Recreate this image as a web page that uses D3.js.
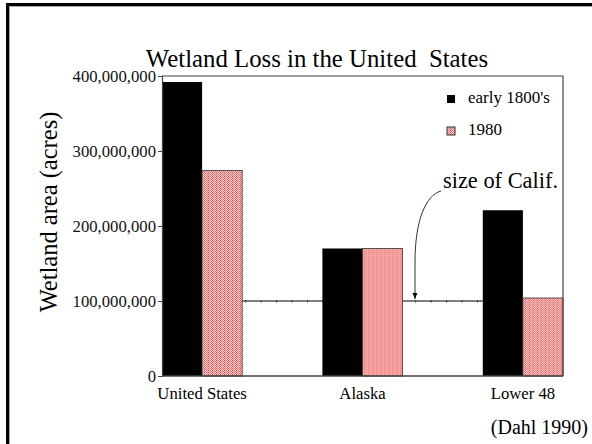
<!DOCTYPE html>
<html><head><meta charset="utf-8">
<script src="https://cdn.jsdelivr.net/npm/d3@7"></script>
<style>html,body{margin:0;padding:0;background:#fff;}svg{display:block;}</style>
</head><body>
<script>
const categories = ["United States", "Alaska", "Lower 48"];
const seriesNames = ["early 1800's", "1980"];
const early1800s = [392000000, 170000000, 221000000];
const y1980 = [274000000, 170000000, 104000000];
const yTicks = [0, 100000000, 200000000, 300000000, 400000000];
const californiaSize = 100000000;

const W = 592, H = 444;
const m = {left: 162, top: 76, right: 563, bottom: 376};
const font = "'Liberation Serif','Times New Roman',serif";

const svg = d3.select("body").append("svg").attr("width", W).attr("height", H)
  .style("font-family", font);

const defs = svg.append("defs");
const pat = defs.append("pattern").attr("id", "pink").attr("patternUnits", "userSpaceOnUse")
  .attr("width", 4).attr("height", 2);
pat.append("rect").attr("width", 4).attr("height", 2).attr("fill", "#fcd2d2");
pat.append("rect").attr("x", 0).attr("y", 0).attr("width", 1).attr("height", 1).attr("fill", "#f07474");
pat.append("rect").attr("x", 1).attr("y", 1).attr("width", 1).attr("height", 1).attr("fill", "#f07474");
pat.append("rect").attr("x", 2).attr("y", 0).attr("width", 1).attr("height", 1).attr("fill", "#e84040");
pat.append("rect").attr("x", 3).attr("y", 1).attr("width", 1).attr("height", 1).attr("fill", "#f07474");

const marker = defs.append("marker").attr("id", "arr").attr("viewBox", "0 0 10 10")
  .attr("refX", 10).attr("refY", 5).attr("markerWidth", 6).attr("markerHeight", 6)
  .attr("orient", "auto").attr("markerUnits", "userSpaceOnUse");
marker.append("path").attr("d", "M0,1 L10,5 L0,9 Z").attr("fill", "#000");

// outer frame (left and top)
svg.append("line").attr("x1", 7.5).attr("y1", 3).attr("x2", 7.5).attr("y2", H).attr("stroke", "#000").attr("stroke-width", 3);
svg.append("line").attr("x1", 6).attr("y1", 4.5).attr("x2", W).attr("y2", 4.5).attr("stroke", "#000").attr("stroke-width", 3);
svg.append("line").attr("x1", 9.5).attr("y1", 6).attr("x2", 9.5).attr("y2", H).attr("stroke", "#aaa").attr("stroke-width", 1);
svg.append("line").attr("x1", 9).attr("y1", 6.5).attr("x2", W).attr("y2", 6.5).attr("stroke", "#aaa").attr("stroke-width", 1);

const x0 = d3.scaleBand().domain(categories).range([m.left, m.right]).paddingInner(0.5).paddingOuter(0);
const x1 = d3.scaleBand().domain(seriesNames).range([0, x0.bandwidth()]);
const y = d3.scaleLinear().domain([0, 400000000]).range([m.bottom, m.top]);

// title
svg.append("text").attr("x", 317).attr("y", 67).attr("text-anchor", "middle")
  .attr("font-size", 24.8).attr("xml:space", "preserve").style("white-space", "pre")
  .text("Wetland Loss in the United  States");

// California reference line with small ticks
const cy = y(californiaSize);
svg.append("line").attr("x1", m.left).attr("x2", m.right).attr("y1", cy).attr("y2", cy)
  .attr("stroke", "#555").attr("stroke-width", 1.5);
const tickX = d3.range(m.left + 6.5, m.right, 15.45);
svg.selectAll(".mt").data(tickX).enter().append("line")
  .attr("x1", d => d).attr("x2", d => d).attr("y1", cy - 1).attr("y2", cy + 1.5)
  .attr("stroke", "#333").attr("stroke-width", 1);

// bars
const rows = categories.map((c, i) => ({cat: c, vals: [early1800s[i], y1980[i]]}));
const g = svg.selectAll(".grp").data(rows).enter().append("g")
  .attr("transform", d => `translate(${x0(d.cat)},0)`);
g.selectAll("rect").data(d => d.vals.map((v, j) => ({s: seriesNames[j], v}))).enter().append("rect")
  .attr("x", d => x1(d.s)).attr("width", x1.bandwidth())
  .attr("y", d => y(d.v)).attr("height", d => y(0) - y(d.v))
  .attr("fill", d => d.s === seriesNames[0] ? "#000" : "url(#pink)")
  .attr("stroke", d => d.s === seriesNames[0] ? "none" : "#333")
  .attr("stroke-width", 0.8);

// frame
svg.append("path").attr("d", `M${m.left},${m.top}H${m.right}V${m.bottom}`)
  .attr("fill", "none").attr("stroke", "#444").attr("stroke-width", 1.2);
svg.append("line").attr("x1", m.left).attr("x2", m.right).attr("y1", m.bottom).attr("y2", m.bottom)
  .attr("stroke", "#444").attr("stroke-width", 1.5);

// y axis
const yAxis = svg.append("g").attr("transform", `translate(${m.left},0)`)
  .call(d3.axisLeft(y).tickValues(yTicks).tickFormat(d3.format(",")).tickSize(4).tickPadding(2));
yAxis.select(".domain").attr("stroke", "#444").attr("stroke-width", 1.2);
yAxis.selectAll(".tick line").attr("stroke", "#444");
yAxis.selectAll("text").attr("font-family", font).attr("font-size", 16.7).attr("fill", "#111");

// x labels
svg.selectAll(".xl").data(categories).enter().append("text")
  .attr("x", d => x0(d) + x0.bandwidth() / 2).attr("y", 399)
  .attr("text-anchor", "middle").attr("font-size", 16.7).text(d => d);

// y title
svg.append("text").attr("transform", "translate(57,212) rotate(-90)")
  .attr("text-anchor", "middle").attr("font-size", 24.5).text("Wetland area (acres)");

// legend
const leg = svg.append("g");
seriesNames.forEach((s, i) => {
  const ly = 95 + i * 32;
  leg.append("rect").attr("x", 447).attr("y", ly).attr("width", 8).attr("height", 8)
    .attr("fill", i === 0 ? "#000" : "url(#pink)")
    .attr("stroke", i === 0 ? "none" : "#333").attr("stroke-width", 1);
  leg.append("text").attr("x", 468).attr("y", ly + 8).attr("font-size", 17).text(s);
});

// annotation
svg.append("text").attr("x", 443).attr("y", 188).attr("font-size", 22.4).text("size of Calif.");
svg.append("path").attr("d", `M441,191 C426,195 415,220 415,262 L415,${cy - 2}`)
  .attr("fill", "none").attr("stroke", "#333").attr("stroke-width", 1)
  .attr("marker-end", "url(#arr)");

// source
svg.append("text").attr("x", 588).attr("y", 434).attr("text-anchor", "end")
  .attr("font-size", 20).text("(Dahl 1990)");
</script>
</body></html>
